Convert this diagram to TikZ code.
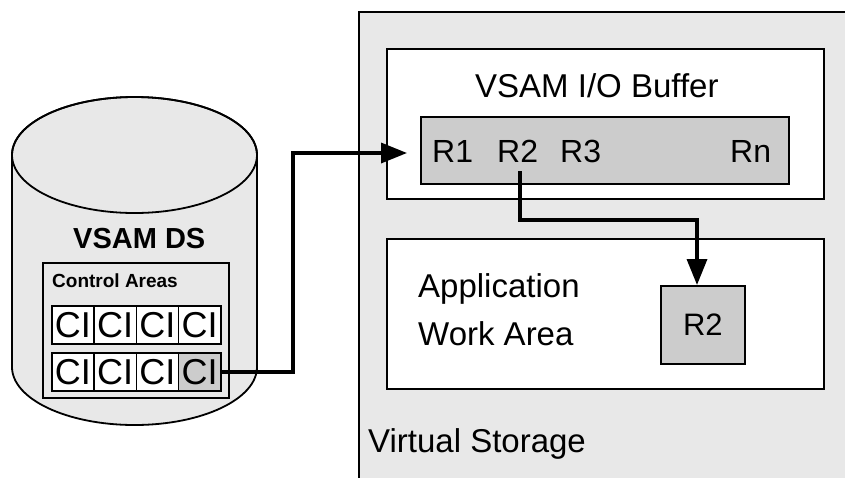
\documentclass[tikz,border=0pt]{standalone}
\usepackage{fontspec}
\setmainfont{Liberation Sans}
\usetikzlibrary{arrows.meta,calc}
\definecolor{bgray}{gray}{0.91}
\definecolor{dgray}{gray}{0.80}
\begin{document}
\begin{tikzpicture}[x=1pt,y=-1pt,
  box/.style={draw, line width=1.8pt, inner sep=0pt, anchor=north west},
  lbl/.style={inner sep=0pt, anchor=base west, font=\fontsize{33}{40}\selectfont},
  rl/.style={inner sep=0pt, anchor=base west, font=\fontsize{32}{38}\selectfont},
  cell/.style={draw, line width=1.6pt, fill=white, inner sep=0pt, anchor=north west,
    minimum width=42.25pt, minimum height=38pt, font=\fontsize{36}{42}\selectfont},
  conn/.style={line width=3.5pt, -{Triangle[length=26pt,width=20pt]}}]
\useasboundingbox (0,0) rectangle (845,477);
\fill[white] (0,0) rectangle (845,477);
% Virtual storage
\begin{scope}
\clip (0,0) rectangle (845,477);
\node[box, fill=bgray, minimum width=520pt, minimum height=500pt] (vs) at (358,11) {};
\end{scope}
\node[lbl] (vslbl) at (368,452) {Virtual Storage};
% VSAM I/O buffer
\node[box, fill=white, minimum width=437pt, minimum height=150pt] (buf) at (386,48) {};
\node[lbl] (buflbl) at (475,97) {VSAM I/O Buffer};
\node[box, fill=dgray, minimum width=368pt, minimum height=67pt] (rbox) at (420,116) {};
\node[rl] (r1) at (432,162) {R1};
\node[rl] (r2l) at (497,162) {R2};
\node[rl] (r3) at (560,162) {R3};
\node[rl] (rn) at (730,162) {Rn};
% Application work area
\node[box, fill=white, minimum width=437pt, minimum height=150pt] (app) at (386,238) {};
\node[lbl] (applbl1) at (418,297) {Application};
\node[lbl] (applbl2) at (418,345) {Work Area};
\node[box, fill=dgray, minimum width=84pt, minimum height=78pt,
  font=\fontsize{31}{38}\selectfont] (wr2) at (660,285) {R2};
% Cylinder
\filldraw[fill=bgray, line width=1.8pt] (12,155) -- (12,367)
  arc[start angle=180, end angle=360, x radius=122.5pt, y radius=58pt]
  -- (257,155)
  arc[start angle=0, end angle=180, x radius=122.5pt, y radius=58pt] -- cycle;
\draw[line width=1.8pt] (134.5,155) ellipse[x radius=122.5pt, y radius=58pt];
\node[inner sep=0pt, anchor=base west, font=\bfseries\fontsize{29}{34}\selectfont] (dslbl) at (73,248) {VSAM DS};
\node[box, fill=bgray, minimum width=186pt, minimum height=135pt] (cas) at (42,262) {};
\node[inner sep=0pt, anchor=base west, font=\bfseries\fontsize{19}{23}\selectfont] (caslbl) at (52,287) {Control Areas};
\foreach \i in {1,...,4} {
  \node[cell] (c1\i) at ({51+42.25*(\i-1)},305) {CI};
}
\foreach \i in {1,...,3} {
  \node[cell] (c2\i) at ({51+42.25*(\i-1)},352) {CI};
}
\node[cell, fill=dgray] (c24) at ({51+42.25*3},352) {CI};
% connectors
\coordinate (j1) at (293,153);
\coordinate (tip1) at (407,153);
\draw[conn] (c24.east) -| (j1) -- (tip1);
\coordinate (s2) at (520,171);
\coordinate (j2) at (697,220);
\draw[conn] (s2) |- (j2) -- (j2 |- wr2.north);
\end{tikzpicture}
\end{document}
